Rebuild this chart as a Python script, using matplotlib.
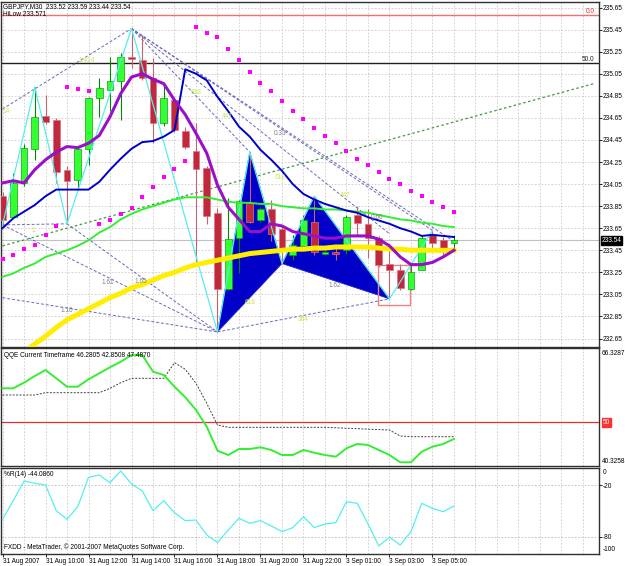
import matplotlib
matplotlib.use('Agg')
import matplotlib.pyplot as plt
import numpy as np
from matplotlib.patches import Polygon, Rectangle

plt.rcParams['font.family'] = ['Liberation Sans', 'DejaVu Sans']

# ---------------- data ----------------
opens = [233.94, 233.75, 234.06, 234.37, 234.67, 234.63, 234.18, 234.09, 234.37, 234.83,
         234.90, 234.98, 235.20, 235.17, 235.01, 234.60, 234.81, 234.53, 234.35, 234.20,
         233.79, 233.10, 233.56, 233.88, 233.72, 233.82, 233.64, 233.41, 233.49, 233.71,
         233.42, 233.43, 233.45, 233.77, 233.69, 233.56, 233.33, 233.27, 233.10, 233.27,
         233.59, 233.54, 233.52]
highs = [233.98, 234.15, 234.41, 234.93, 234.86, 234.65, 234.21, 234.39, 234.84, 235.01,
         235.20, 235.24, 235.46, 235.40, 235.19, 234.95, 234.84, 234.57, 234.60, 234.21,
         233.83, 233.92, 233.91, 234.34, 233.84, 233.91, 233.68, 233.59, 233.77, 233.94,
         233.45, 233.48, 233.77, 233.85, 233.82, 233.58, 233.45, 233.33, 233.32, 233.59,
         233.63, 233.57, 233.59]
lows = [233.68, 233.74, 234.03, 234.27, 234.59, 234.06, 233.69, 234.00, 234.22, 234.66,
        234.71, 234.63, 235.10, 234.99, 234.42, 234.58, 234.52, 234.37, 233.32, 233.69,
        232.71, 233.09, 233.24, 233.70, 233.71, 233.53, 233.33, 233.36, 233.47, 233.41,
        233.41, 233.36, 233.42, 233.59, 233.38, 233.30, 233.01, 233.09, 233.09, 233.27,
        233.45, 233.41, 233.44]
closes = [233.72, 234.06, 234.38, 234.66, 234.61, 234.16, 234.08, 234.37, 234.83, 234.92,
          234.98, 235.20, 235.18, 235.01, 234.60, 234.83, 234.54, 234.39, 234.19, 233.76,
          233.10, 233.55, 233.90, 233.71, 233.82, 233.60, 233.45, 233.50, 233.72, 233.43,
          233.43, 233.42, 233.75, 233.70, 233.56, 233.32, 233.27, 233.11, 233.25, 233.56,
          233.52, 233.47, 233.54]

ma_purple = [234.06, 234.08, 234.06, 234.18, 234.27, 234.34, 234.39, 234.38, 234.42, 234.49,
             234.66, 234.87, 235.02, 235.05, 235.00, 234.96, 234.81, 234.68, 234.51, 234.33,
             234.04, 233.84, 233.73, 233.62, 233.62, 233.69, 233.67, 233.62, 233.60, 233.58,
             233.56, 233.56, 233.58, 233.58, 233.58, 233.55, 233.49, 233.39, 233.32, 233.32,
             233.34, 233.39, 233.45]
ma_blue = [233.65, 233.74, 233.80, 233.86, 233.94, 234.00, 234.00, 234.00, 234.00, 234.07,
           234.18, 234.28, 234.37, 234.43, 234.44, 234.48, 234.54, 235.09, 235.05, 234.99,
           234.84, 234.71, 234.57, 234.48, 234.36, 234.27, 234.17, 234.05, 233.96, 233.91,
           233.87, 233.84, 233.81, 233.79, 233.75, 233.72, 233.69, 233.65, 233.62, 233.58,
           233.59, 233.58, 233.57]
ma_green = [233.21, 233.24, 233.29, 233.33, 233.39, 233.42, 233.45, 233.49, 233.54, 233.61,
            233.66, 233.73, 233.78, 233.82, 233.85, 233.88, 233.91, 233.93, 233.93, 233.93,
            233.91, 233.89, 233.88, 233.88, 233.87, 233.87, 233.85, 233.84, 233.83, 233.83,
            233.82, 233.82, 233.81, 233.80, 233.79, 233.77, 233.75, 233.73, 233.72, 233.70,
            233.69, 233.67, 233.66]
ma_yellow = [232.38, 232.46, 232.53, 232.60, 232.67, 232.75, 232.82, 232.87, 232.92, 232.97,
             233.02, 233.06, 233.11, 233.14, 233.18, 233.22, 233.25, 233.29, 233.32, 233.34,
             233.36, 233.38, 233.40, 233.42, 233.43, 233.44, 233.45, 233.46, 233.46, 233.47,
             233.47, 233.48, 233.48, 233.48, 233.48, 233.47, 233.46, 233.46, 233.45, 233.45,
             233.45, 233.45, 233.45]
sar = [233.37, 233.41, 233.46, 233.50, 233.59, 233.67, 234.93, 234.91, 234.89, 233.69,
       233.72, 233.78, 233.83, 233.93, 234.02, 234.11, 234.19, 234.26, 235.47, 235.42,
       235.38, 235.27, 235.17, 235.07, 234.97, 234.89, 234.80, 234.71, 234.64, 234.56,
       234.49, 234.42, 234.35, 234.28, 234.22, 234.16, 234.10, 234.05, 233.99, 233.94,
       233.89, 233.84, 233.80]

zigzag_bars = [0, 3, 6, 12, 20, 23, 26, 29, 36, 40]
zigzag_prices = [233.68, 234.93, 233.69, 235.46, 232.71, 234.34, 233.33, 233.94, 233.01, 233.63]

pattern1_bars = [20, 23, 26]
pattern1_prices = [232.71, 234.34, 233.33]
pattern2_bars = [26, 29, 36]
pattern2_prices = [233.33, 233.94, 233.01]

fib_lines = [((0, 234.73), (12, 235.46)),
             ((0, 233.68), (6, 233.69)),
             ((0, 233.68), (20, 232.71)),
             ((6, 233.69), (20, 232.71)),
             ((0, 233.02), (20, 232.71)),
             ((20, 232.71), (36, 233.01)),
             ((12, 235.46), (23, 234.34)),
             ((12, 235.46), (36, 233.60)),
             ((12, 235.46), (40, 233.63)),
             ((12, 235.46), (42, 233.53))]
trend_bars = [0, 55]
trend_prices = [233.49, 234.96]
box_bars = [34.9, 37.9]
box_prices = [232.95, 233.32]

level_red = 235.58
level_black = 235.15
last_price = 233.54

fib_texts = [(0.33, 234.71, '14', 'y'), (7.8, 235.17, '1.414', 'y'), (2.9, 233.63, '1', 'y'),
             (18.0, 234.88, '618', 'y'), (20.9, 234.66, '447', 'y'), (25.8, 234.51, '0.33', 'g'),
             (25.8, 234.11, '618', 'y'), (31.9, 233.95, '447', 'y'), (34.8, 233.75, '0.60', 'g'),
             (23.0, 232.98, '618', 'y'), (28.0, 232.82, '364', 'y'), (30.9, 233.13, '1.62', 'g'),
             (9.8, 233.16, '1.61', 'g'), (12.9, 233.17, '1.65', 'g'), (6.0, 232.90, '1.10', 'g')]

qqe_fast = [57.45, 57.45, 58.68, 60.16, 61.48, 59.65, 57.80, 57.80, 59.43, 60.75,
            62.08, 63.31, 64.79, 64.79, 61.11, 60.38, 57.80, 55.47, 52.67, 48.99,
            43.70, 42.75, 44.07, 44.07, 44.45, 43.85, 42.75, 42.75, 43.85, 43.26,
            42.75, 42.38, 44.23, 45.18, 44.96, 43.85, 42.75, 41.14, 41.14, 43.48,
            44.58, 45.18, 46.28]
qqe_slow = [55.97, 55.97, 55.97, 55.97, 56.48, 56.48, 56.48, 56.48, 56.48, 56.48,
            57.45, 58.68, 59.65, 59.65, 59.65, 59.65, 63.09, 61.64, 58.55, 54.14,
            49.36, 48.85, 48.85, 48.85, 48.85, 48.85, 48.85, 48.85, 48.85, 48.85,
            48.85, 48.75, 48.65, 48.55, 48.45, 48.35, 48.25, 46.94, 46.78, 46.78,
            46.78, 46.78, 46.78]
wpr = [-59.7, -38.0, -15.1, -17.8, -19.8, -49.6, -59.7, -45.0, -10.8, -8.1,
       -17.1, -3.5, -18.6, -26.7, -49.6, -38.0, -52.0, -61.2, -60.5, -77.9,
       -86.8, -72.1, -58.5, -64.3, -61.2, -67.4, -74.0, -69.4, -56.6, -69.4,
       -65.1, -63.6, -39.2, -41.1, -65.1, -90.7, -80.6, -89.5, -74.0, -41.1,
       -46.9, -50.8, -44.1]

time_label_bars = [0, 4, 8, 12, 16, 20, 24, 28, 32, 36, 40]
time_labels = ['31 Aug 2007', '31 Aug 10:00', '31 Aug 12:00', '31 Aug 14:00', '31 Aug 16:00',
               '31 Aug 18:00', '31 Aug 20:00', '31 Aug 22:00', '3 Sep 01:00', '3 Sep 03:00',
               '3 Sep 05:00']
price_ticks = [235.65, 235.45, 235.25, 235.05, 234.85, 234.65, 234.45, 234.25, 234.05,
               233.85, 233.65, 233.45, 233.25, 233.05, 232.85, 232.65]

# ---------------- figure ----------------
W, H = 625, 566
fig = plt.figure(figsize=(W / 100, H / 100), dpi=100)
fig.patch.set_facecolor('white')

def px_axes(x0, y0, x1, y1):
    return fig.add_axes([x0 / W, 1 - y1 / H, (x1 - x0) / W, (y1 - y0) / H])

ax = px_axes(1, 2, 599, 346.5)
axq = px_axes(1, 348, 599, 466)
axr = px_axes(1, 468, 599, 554)

FS = 4.7
XL = (-0.14, 55.49)
grid_c = '#D0C8C8'
for a in (ax, axq, axr):
    a.set_xlim(*XL)
    for s in a.spines.values():
        s.set_color('#303030')
        s.set_linewidth(1.0)
    a.yaxis.tick_right()
    a.tick_params(axis='y', length=2, pad=1, labelsize=FS, direction='out', width=0.6)
    a.tick_params(axis='x', length=0, labelbottom=False)
    a.set_xticks([])
    for b in range(0, 56, 2):
        a.axvline(b, color=grid_c, lw=0.6, ls=(0, (2, 2)), zorder=0)

x = np.arange(len(opens))

# main pane
ax.set_ylim(232.578, 235.70)
ax.set_yticks(price_ticks)
ax.set_yticklabels(['%.2f' % p for p in price_ticks])
for p in price_ticks:
    ax.axhline(p, color=grid_c, lw=0.6, ls=(0, (2, 2)), zorder=0)

ax.axhline(level_red, color='#EE7070', lw=1.0, zorder=1)
ax.axhline(level_black, color='#202020', lw=1.0, zorder=1)
ax.axhline(last_price, color='#C0C0C0', lw=0.8, zorder=1)

ax.plot(trend_bars, trend_prices, color='#3A9A3A', lw=0.9, ls=(0, (2, 2)), zorder=1.5)
for (b0, p0), (b1, p1) in fib_lines:
    ax.plot([b0, b1], [p0, p1], color='#6868C0', lw=0.7, ls=(0, (3, 2)), zorder=1.5)

for bb, pp in ((pattern1_bars, pattern1_prices), (pattern2_bars, pattern2_prices)):
    ax.add_patch(Polygon(list(zip(bb, pp)), closed=True, facecolor='#0000C8',
                         edgecolor='#2020D0', lw=0.6, zorder=2))

ax.add_patch(Rectangle((box_bars[0], box_prices[0]), box_bars[1] - box_bars[0],
                       box_prices[1] - box_prices[0], fill=False,
                       edgecolor='#F08080', lw=1.0, zorder=3.5))

o = np.array(opens); c = np.array(closes); h = np.array(highs); l = np.array(lows)
bull = c >= o
wick_cols = np.where(bull, '#008800', '#C86070')
ax.vlines(x, l, h, colors=wick_cols, lw=0.8, zorder=3)
bottoms = np.minimum(o, c)
heights = np.maximum(np.abs(c - o), 0.008)
ax.bar(x, heights, bottom=bottoms, width=0.62,
       color=np.where(bull, '#33FF33', '#C0283C'),
       edgecolor=np.where(bull, '#10A010', '#E07080'), lw=0.5, zorder=4)

ax.plot(zigzag_bars, zigzag_prices, color='#55EEEE', lw=0.9, zorder=4.5)
ax.plot(x, ma_yellow, color='#FFEE00', lw=3.6, zorder=5)
ax.plot(x, ma_green, color='#33EE33', lw=1.4, zorder=5)
ax.plot(x, ma_blue, color='#0000CC', lw=1.4, zorder=6)
ax.plot(x, ma_purple, color='#9A10C8', lw=2.2, zorder=6)
ax.plot(x, sar, 's', color='#FF00FF', ms=2.4, mew=0, zorder=7)

tcol = {'y': '#C8E650', 'g': '#808080'}
for bx, py, t, k in fib_texts:
    ax.text(bx, py, t, color=tcol[k], fontsize=FS, ha='center', va='center', zorder=8)

ax.text(596 / W * 0 + 0.993, (level_red - 232.578) / (235.70 - 232.578), '0.0',
        transform=ax.transAxes, color='#E03030', fontsize=FS, ha='right', va='bottom')
ax.text(0.993, (level_black - 232.578) / (235.70 - 232.578), '50.0',
        transform=ax.transAxes, color='#202020', fontsize=FS, ha='right', va='bottom')

fig.text(3 / W, 1 - 6.5 / H, 'GBPJPY,M30  233.52 233.59 233.44 233.54', fontsize=FS,
         va='center', ha='left', color='black')
fig.text(3 / W, 1 - 14.5 / H, 'HiLow 233.571', fontsize=FS, va='center', ha='left', color='black')
fig.text(601.5 / W, 1 - 240.5 / H, '233.54', fontsize=FS, va='center', ha='left', color='white',
         bbox=dict(boxstyle='square,pad=0.15', fc='black', ec='black'))

# QQE pane
axq.set_ylim(40.3258, 66.3287)
axq.set_yticks([])
axq.axhline(50, color='#E03030', lw=0.9, zorder=1)
axq.plot(x, qqe_slow, color='#404040', lw=0.7, ls=(0, (2, 1.5)), zorder=2)
axq.plot(x, qqe_fast, color='#33EE33', lw=1.4, zorder=3)
axq.text(0.005, 0.97, 'QQE Current Timeframe 46.2805 42.8508 47.4870', transform=axq.transAxes,
         fontsize=FS, va='top', ha='left')
axq.text(1.004, 0.985, '66.3287', transform=axq.transAxes, fontsize=FS, va='top', ha='left')
axq.text(1.004, 0.01, '40.3258', transform=axq.transAxes, fontsize=FS, va='bottom', ha='left')
axq.text(1.006, (50 - 40.3258) / (66.3287 - 40.3258), '50', transform=axq.transAxes,
         fontsize=FS, va='center', ha='left', color='white',
         bbox=dict(boxstyle='square,pad=0.15', fc='#FF3030', ec='#FF3030'))

# %R pane
axr.set_ylim(-100, 0)
axr.set_yticks([-20, -80])
axr.set_yticklabels(['-20', '-80'])
for lv in (-20, -80):
    axr.axhline(lv, color='#B8B8B8', lw=0.6, ls=(0, (2, 2)), zorder=1)
axr.plot(x, wpr, color='#55EEEE', lw=0.9, zorder=3)
axr.text(1.006, 0.99, '0', transform=axr.transAxes, fontsize=FS, va='top', ha='left')
axr.text(1.006, 0.01, '-100', transform=axr.transAxes, fontsize=FS, va='bottom', ha='left')
axr.text(0.005, 0.96, '%R(14) -44.0860', transform=axr.transAxes, fontsize=FS, va='top', ha='left')
axr.text(0.005, 0.03, 'FXDD - MetaTrader, \u00a9 2001-2007 MetaQuotes Software Corp.',
         transform=axr.transAxes, fontsize=FS, va='bottom', ha='left')
axr.set_xticks(time_label_bars)
axr.set_xticklabels(time_labels)
axr.tick_params(axis='x', length=2, pad=1, labelsize=FS, labelbottom=True, width=0.6)
for lab in axr.get_xticklabels():
    lab.set_horizontalalignment('left')

fig.savefig('out.png', dpi=100, facecolor='white')
